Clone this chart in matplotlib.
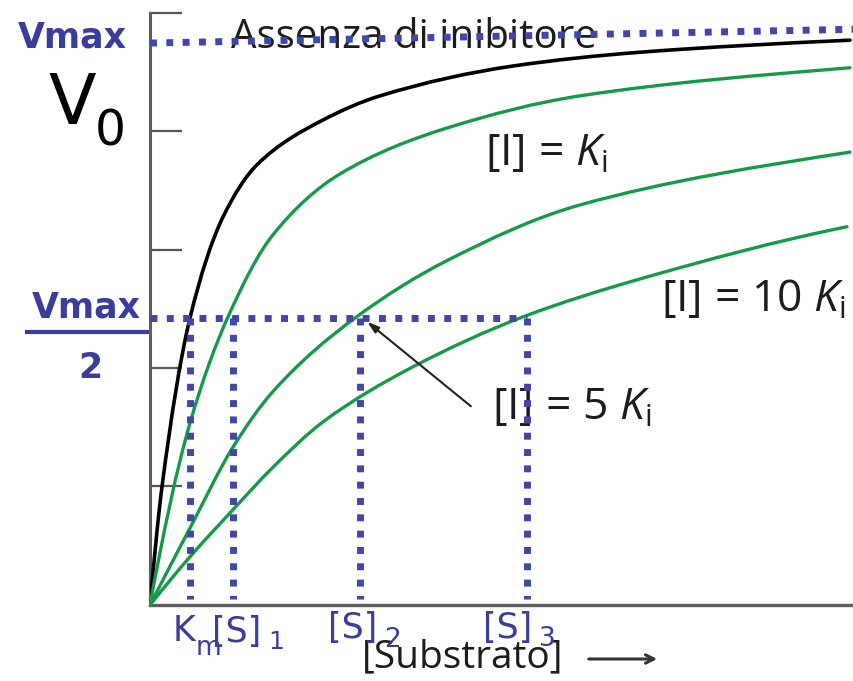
import matplotlib
matplotlib.use("Agg")
import matplotlib.pyplot as plt
from matplotlib.path import Path
from matplotlib.patches import PathPatch

plt.rcParams['mathtext.fontset'] = 'custom'
plt.rcParams['mathtext.rm'] = 'Open Sans'
plt.rcParams['mathtext.it'] = 'Open Sans:italic'

# ---- data (x in units of Km, y as fraction of Vmax) ----
black_x = [0, 0.30, 1.0, 1.825, 2.675, 4.325, 5.75, 9.075, 12.25, 17.5]
black_y = [0, 0.206, 0.500, 0.676, 0.767, 0.845, 0.887, 0.939, 0.963, 0.984]

ki1_x = [0, 1.0, 1.95, 3.075, 4.75, 7.425, 10.75, 17.5]
ki1_y = [0, 0.317, 0.502, 0.645, 0.751, 0.831, 0.887, 0.936]

ki5_x = [0, 1.0, 2.075, 3.075, 5.125, 7.425, 10.75, 17.5]
ki5_y = [0, 0.134, 0.275, 0.372, 0.500, 0.600, 0.697, 0.789]

ki10_x = [0, 1.0, 2.075, 3.075, 4.325, 6.575, 9.325, 12.25, 17.425]
ki10_y = [0, 0.084, 0.166, 0.240, 0.319, 0.415, 0.502, 0.568, 0.659]

vmax_line_x = [0, 17.6]
vmax_line_y = [0.979, 1.003]
half_vmax = 0.5
s_positions = [1.0, 2.075, 5.25, 9.425]   # Km, [S]1, [S]2, [S]3
ytick_vals = [0.207, 0.413, 0.618, 0.826, 1.031]

W, H = 854, 681
BLUE = '#3f48aa'
TBLUE = '#3a3d9c'
GREEN = '#17994a'
INK = '#1c1c1c'

fig = plt.figure(figsize=(W / 100, H / 100), dpi=100)
ax = fig.add_axes([150 / W, 76 / H, 704 / W, 605 / H])
ax.set_xlim(0, 17.6)
ax.set_ylim(0, 605 / 574)


def smooth_path(xs, ys):
    """Monotone (PCHIP-style) Bezier path passing through the read points."""
    n = len(xs)
    h = [xs[i + 1] - xs[i] for i in range(n - 1)]
    d = [(ys[i + 1] - ys[i]) / h[i] for i in range(n - 1)]
    m = [0.0] * n
    for i in range(1, n - 1):
        if d[i - 1] * d[i] <= 0:
            m[i] = 0.0
        else:
            w1 = 2 * h[i] + h[i - 1]
            w2 = h[i] + 2 * h[i - 1]
            m[i] = (w1 + w2) / (w1 / d[i - 1] + w2 / d[i])
    t = ((2 * h[0] + h[1]) * d[0] - h[0] * d[1]) / (h[0] + h[1])
    m[0] = t if t * d[0] > 0 else d[0]
    m[-1] = 0.8 * d[-1]
    verts = [(xs[0], ys[0])]
    codes = [Path.MOVETO]
    for i in range(n - 1):
        verts += [(xs[i] + h[i] / 3, ys[i] + m[i] * h[i] / 3),
                  (xs[i + 1] - h[i] / 3, ys[i + 1] - m[i + 1] * h[i] / 3),
                  (xs[i + 1], ys[i + 1])]
        codes += [Path.CURVE4] * 3
    return Path(verts, codes)


def P(px, py):
    return px / W, 1 - py / H


def label(px, py, s, **kw):
    ax.text(px / W, 1 - py / H, s, transform=fig.transFigure, clip_on=False, **kw)


# curves
ax.add_patch(PathPatch(smooth_path(black_x, black_y), fc='none', ec='black', lw=2.6,
                       joinstyle='round', capstyle='round', zorder=3))
for xs, ys in [(ki1_x, ki1_y), (ki5_x, ki5_y), (ki10_x, ki10_y)]:
    ax.add_patch(PathPatch(smooth_path(xs, ys), fc='none', ec=GREEN, lw=2.4,
                           joinstyle='round', capstyle='round', zorder=3))

# dotted guide lines
dot = dict(color=BLUE, lw=5, linestyle=(0, (1, 1.35)), dash_capstyle='butt', zorder=5, clip_on=False)
ax.plot(vmax_line_x, vmax_line_y, **dot)
ax.plot([0, s_positions[-1]], [half_vmax, half_vmax], **dot)
for s in s_positions:
    ax.plot([s, s], [half_vmax, 0.01], **dot)

# spines / ticks
for side in ['top', 'right']:
    ax.spines[side].set_visible(False)
ax.spines['left'].set_color('#5e5e5e')
ax.spines['left'].set_linewidth(2.2)
ax.spines['left'].set_bounds(0, ytick_vals[-1])
ax.spines['bottom'].set_color('#5e5e5e')
ax.spines['bottom'].set_linewidth(2.4)
ax.set_yticks(ytick_vals)
ax.set_yticklabels([])
ax.set_xticks([])
ax.tick_params(axis='y', direction='in', length=23, width=1.6, color='#555555')

# left blue / black labels
fig.text(*P(72, 38), 'Vmax', color=TBLUE, fontsize=25, fontweight='bold',
         family='DejaVu Sans', ha='center', va='center')
fig.text(*P(72, 104), 'V', color='black', fontsize=50, family='DejaVu Sans',
         ha='center', va='center')
fig.text(*P(110, 131), '0', color='black', fontsize=35, family='DejaVu Sans',
         ha='center', va='center')
fig.text(*P(86, 308), 'Vmax', color=TBLUE, fontsize=25, fontweight='bold',
         family='DejaVu Sans', ha='center', va='center')
fig.add_artist(plt.Line2D([27 / W, 147 / W], [1 - 332 / H, 1 - 332 / H], color=TBLUE, lw=3))
fig.text(*P(90, 368), '2', color=TBLUE, fontsize=25, fontweight='bold',
         family='DejaVu Sans', ha='center', va='center')

# bottom blue labels
blue_kw = dict(color=TBLUE, family='DejaVu Sans', ha='left', va='center', zorder=6)
label(173, 631, 'K', fontsize=25, **blue_kw)
label(196, 648, 'm', fontsize=19, **blue_kw)
label(212, 632, '[S]', fontsize=25, **blue_kw)
label(268, 642, '1', fontsize=18, **blue_kw)
label(328, 628, '[S]', fontsize=25, **blue_kw)
label(384, 640, '2', fontsize=19, **blue_kw)
label(483, 628, '[S]', fontsize=25, **blue_kw)
label(539, 639, '3', fontsize=19, **blue_kw)

# black chart text
label(362, 657, '[Substrato]', color=INK, fontsize=28, family='Open Sans',
      ha='left', va='center', zorder=2)
ax.annotate('', xy=(660, H - 659), xytext=(586, H - 659), xycoords='figure pixels',
            textcoords='figure pixels',
            arrowprops=dict(arrowstyle='->,head_length=0.6,head_width=0.3', color='#333333', lw=2.2))
label(231, 38, 'Assenza di inibitore', color=INK, fontsize=29, family='Open Sans',
      ha='left', va='center', zorder=2)
label(485, 155, r'[I] = $K_\mathregular{i}$', color=INK, fontsize=32, family='Open Sans',
      ha='left', va='center', zorder=2)
label(661, 301, r'[I] = 10 $K_\mathregular{i}$', color=INK, fontsize=32, family='Open Sans',
      ha='left', va='center', zorder=2)
label(492, 409, r'[I] = 5 $K_\mathregular{i}$', color=INK, fontsize=32, family='Open Sans',
      ha='left', va='center', zorder=2)
ax.annotate('', xy=(365, H - 320), xytext=(473, H - 408), xycoords='figure pixels',
            textcoords='figure pixels',
            arrowprops=dict(arrowstyle='-|>,head_length=0.7,head_width=0.22', color='#222222', lw=1.5))

fig.savefig('out.png', dpi=100, facecolor='white')
